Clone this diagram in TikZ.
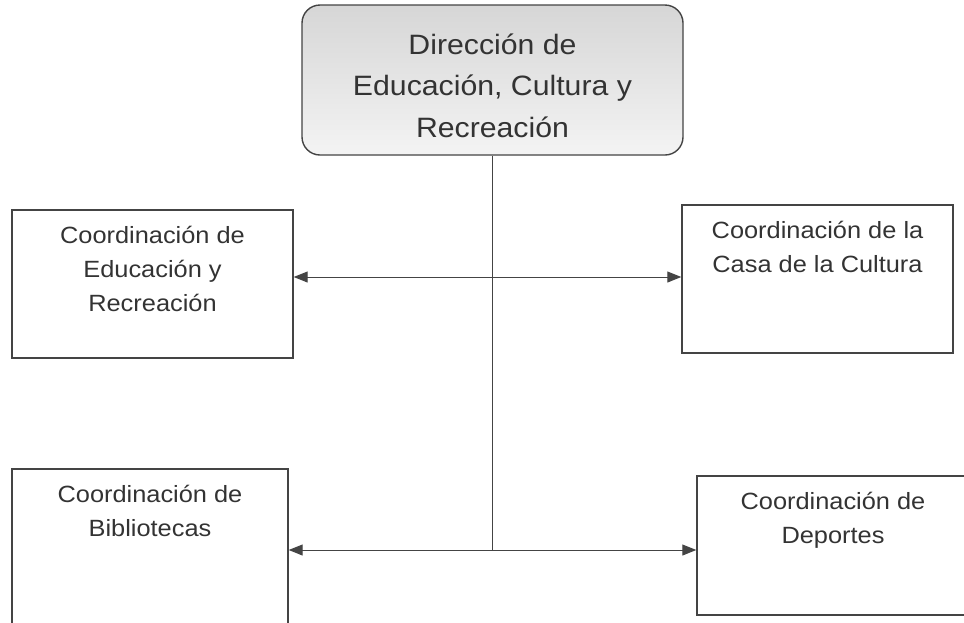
\documentclass[tikz,border=0pt]{standalone}
\usepackage{fontspec}
\setmainfont{Liberation Sans}[FakeStretch=1.08]
\usetikzlibrary{positioning,arrows.meta}
\definecolor{linegray}{HTML}{444444}
\definecolor{textgray}{HTML}{333333}
\tikzset{
  box/.style={draw=linegray, line width=1.4pt, inner sep=0pt},
  headbox/.style={box, rounded corners=18pt, top color=gray!32, bottom color=gray!9},
  boxtext/.style={text=textgray, align=center, inner sep=0pt, font=\fontsize{23.5}{34}\selectfont},
  headtext/.style={boxtext, font=\fontsize{28}{41.5}\selectfont},
  link/.style={draw=linegray, line width=1pt},
  twoway/.style={link, {Triangle[length=14pt,width=11pt]}-{Triangle[length=14pt,width=11pt]}}
}
\begin{document}
\begin{tikzpicture}[x=1pt,y=-1pt]
      \clip (0,0) rectangle (964,622);
      % boxes
      \node[headbox, minimum width=381pt, minimum height=150pt] (dir) at (492.5,80) {};
      \node[box, minimum width=281pt, minimum height=148pt] (edu) at (152.5,284) {};
      \node[box, minimum width=271pt, minimum height=148pt] (casa) at (817.5,279) {};
      \node[box, minimum width=276pt, minimum height=157pt] (bib) at (150,547.5) {};
      \node[box, minimum width=272pt, minimum height=139pt] (dep) at (833,545.5) {};
      % texts
      \node[headtext, below=29pt of dir.north] (dirT) {Dirección de\\Educación, Cultura y\\Recreación};
      \node[boxtext, below=17pt of edu.north] (eduT) {Coordinación de\\Educación y\\Recreación};
      \node[boxtext, below=17pt of casa.north] (casaT) {Coordinación de la\\Casa de la Cultura};
      \node[boxtext, below=17pt of bib.north] (bibT) {Coordinación de\\Bibliotecas};
      \node[boxtext, below=17pt of dep.north] (depT) {Coordinación de\\Deportes};
      % connectors
      \coordinate (upper) at (0,277);
      \coordinate (lower) at (0,550);
      \begin{scope}[link]
        \draw (dir.south) -- (dir.south |- lower);
        \draw[twoway] (edu.east |- upper) -- (casa.west |- upper);
        \draw[twoway] (bib.east |- lower) -- (dep.west |- lower);
      \end{scope}
    \end{tikzpicture}
\end{document}
